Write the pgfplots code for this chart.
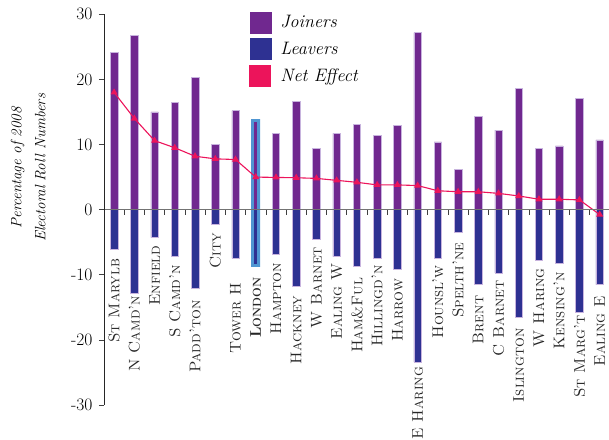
\documentclass[border=0pt]{standalone}
\usepackage{pgfplots}
\pgfplotsset{compat=1.18}
\usepackage{pgfplotstable}

\definecolor{joinpurple}{RGB}{112,40,143}
\definecolor{leaveblue}{RGB}{46,49,146}
\definecolor{netpink}{RGB}{236,20,91}
\definecolor{londonblue}{RGB}{80,150,210}
\definecolor{baredge}{RGB}{200,180,222}

\DeclareRobustCommand\londonlab{{\bfseries L\fontsize{11.5}{11.5}\selectfont ONDON}}

% lab = where the top of the rotated borough name sits
\pgfplotstableread[col sep=comma]{
x,join,leave,net,lab,name
0,24.2,-6.1,18.0,-7.5,St Marylb
1,26.8,-12.9,14.0,-13.2,N Camd’n
2,15.0,-4.3,10.6,-5.5,Enfield
3,16.5,-7.2,9.5,-8.5,S Camd’n
4,20.3,-12.1,8.2,-13.9,Padd’ton
5,10.0,-2.2,7.8,-3.6,City
6,15.2,-7.5,7.7,-11.2,Tower H
7,13.4,-8.4,5.0,-10.4,\londonlab
8,11.7,-6.8,4.95,-8.2,Hampton
9,16.6,-11.8,4.9,-13.2,Hackney
10,9.4,-4.6,4.8,-5.7,W Barnet
11,11.7,-7.2,4.5,-8.2,Ealing W
12,13.1,-8.7,4.2,-10.4,Ham\&Ful
13,11.4,-7.5,3.8,-8.5,Hillingd’n
14,12.9,-9.1,3.8,-10.6,Harrow
15,27.2,-23.4,3.7,-24.1,E Haring
16,10.4,-7.5,2.9,-8.5,Hounsl’w
17,6.2,-3.4,2.75,-5.0,Spelth’ne
18,14.3,-11.5,2.75,-13.2,Brent
19,12.2,-9.7,2.5,-10.8,C Barnet
20,18.6,-16.5,2.1,-18.2,Islington
21,9.4,-7.8,1.6,-9.0,W Haring
22,9.8,-8.2,1.6,-9.6,Kensing’n
23,17.1,-15.7,1.5,-16.2,St Marg’t
24,10.7,-11.5,-0.75,-13.2,Ealing E
}\boroughs

\begin{document}
\begin{tikzpicture}
\begin{axis}[
    at={(0pt,0pt)}, anchor=south west,
    scale only axis, width=505.8pt, height=390.7pt,
    xmin=-0.5, xmax=24.5, ymin=-30, ymax=30,
    clip=false, axis on top,
    axis x line*=middle, axis y line*=left,
    x axis line style={draw=black!55, line width=1.1pt},
    y axis line style={draw=black!85, line width=0.7pt},
    xtick={0.5,1.5,...,23.5}, xticklabels={},
    ytick={-30,-20,...,30}, yticklabels={-30,-20,-10,0,10,20,30},
    tick align=outside, major tick length=5pt,
    tick style={black!75, line width=0.6pt},
    yticklabel style={font=\fontsize{17.5}{17.5}\selectfont, xshift=-3pt},
    ylabel={Percentage of 2008\\Electoral Roll Numbers},
    ylabel style={at={(axis description cs:-0.15,0.607)}, anchor=center,
        align=center, font=\itshape\fontsize{15}{24}\selectfont},
    legend style={at={(rel axis cs:0.287,1.007)}, anchor=north west,
        draw=none, fill=none, inner sep=0pt, row sep=5pt, column sep=9pt,
        font=\itshape\fontsize{18}{18}\selectfont, nodes={inner sep=0pt}},
    legend cell align=left,
]
% London highlight behind its stripes
\addplot[ybar, bar width=9pt, bar shift=0pt, fill=londonblue, draw=none, forget plot]
    coordinates {(7,13.9) (7,-8.8)};

\addplot[ybar, bar width=7.5pt, bar shift=0pt, fill=joinpurple, draw=baredge, line width=0.5pt,
    skip coords between index={7}{8},
    legend image code/.code={\fill[joinpurple] (0pt,-10.5pt) rectangle (21pt,10.5pt);}]
    table[x=x, y=join] \boroughs;
\addlegendentry{Joiners}

\addplot[ybar, bar width=7.5pt, bar shift=0pt, fill=leaveblue, draw=baredge, line width=0.5pt,
    skip coords between index={7}{8},
    legend image code/.code={\fill[leaveblue] (0pt,-10.5pt) rectangle (21pt,10.5pt);}]
    table[x=x, y=leave] \boroughs;
\addlegendentry{Leavers}

% thin London stripes
\addplot[ybar, bar width=2.5pt, bar shift=0pt, fill=joinpurple, draw=none, forget plot,
    skip coords between index={0}{7}, skip coords between index={8}{25}]
    table[x=x, y=join] \boroughs;
\addplot[ybar, bar width=2.5pt, bar shift=0pt, fill=leaveblue, draw=none, forget plot,
    skip coords between index={0}{7}, skip coords between index={8}{25}]
    table[x=x, y=leave] \boroughs;

\addplot[netpink, line width=1.1pt, mark=triangle*, mark size=3pt,
    legend image code/.code={\fill[netpink] (0pt,-10.5pt) rectangle (21pt,10.5pt);}]
    table[x=x, y=net] \boroughs;
\addlegendentry{Net Effect}

% borough names
\addplot[draw=none, mark=none, forget plot, nodes near coords={\pgfplotspointmeta},
    point meta=explicit symbolic,
    nodes near coords style={rotate=90, anchor=east, inner sep=0pt, text=black!85,
        font=\scshape\fontsize{15.5}{15.5}\selectfont}]
    table[x=x, y=lab, meta=name] \boroughs;
\end{axis}
\pgfresetboundingbox
\path[use as bounding box] (-104pt,-34pt) rectangle (505pt,405pt);
\end{tikzpicture}
\end{document}
